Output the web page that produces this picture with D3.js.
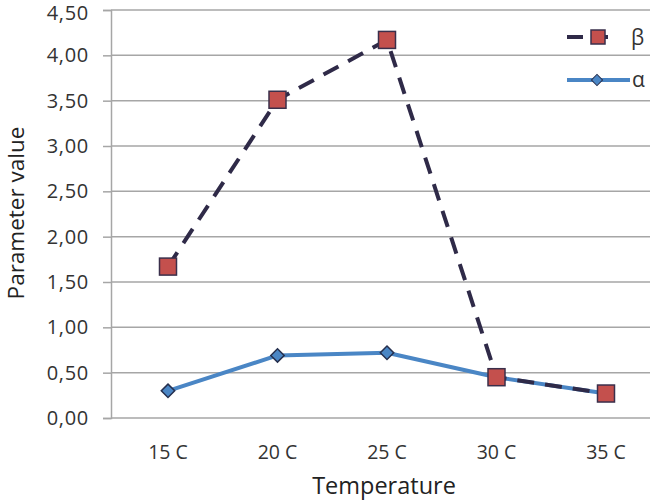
<!DOCTYPE html>
<html>
<head>
<meta charset="utf-8">
<script src="https://cdn.jsdelivr.net/npm/d3@7"></script>
<style>
  html, body { margin: 0; padding: 0; background: #fff; }
  svg { display: block; font-family: "Open Sans", "Liberation Sans", sans-serif; }
</style>
</head>
<body>
<svg id="chart" width="650" height="500"></svg>
<script>
const categories = ["15 C", "20 C", "25 C", "30 C", "35 C"];
const betaValues = [1.67, 3.51, 4.17, 0.45, 0.27];
const alphaValues = [0.30, 0.69, 0.72, 0.45, 0.27];
const yTicks = [0, 0.5, 1, 1.5, 2, 2.5, 3, 3.5, 4, 4.5];
const seriesNames = ["β", "α"];

const svg = d3.select("#chart");
const plotLeft = 111, plotRight = 658, plotTop = 10, plotBottom = 418;

const x = d3.scalePoint().domain(categories).range([168, 606]);
const y = d3.scaleLinear().domain([0, 4.5]).range([plotBottom, plotTop]);
const fmt = v => d3.format(".2f")(v).replace(".", ",");

// gridlines
svg.append("g").selectAll("line").data(yTicks).join("line")
  .attr("x1", plotLeft).attr("x2", plotRight)
  .attr("y1", d => y(d)).attr("y2", d => y(d))
  .attr("stroke", "#a6a6a6").attr("stroke-width", 1.5);

// y axis
const yAxis = svg.append("g").attr("transform", `translate(${plotLeft},0)`)
  .call(d3.axisLeft(y).tickValues(yTicks).tickFormat(fmt).tickSize(8).tickPadding(14));
yAxis.select(".domain").attr("stroke", "#a6a6a6").attr("stroke-width", 1.5);
yAxis.selectAll(".tick line").attr("stroke", "#a6a6a6").attr("stroke-width", 1.5);
yAxis.selectAll("text").attr("fill", "#333").style("font-size", "20px")
  .style("letter-spacing", "0.7px")
  .style("font-family", "'Open Sans', sans-serif");
yAxis.selectAll(".tick").filter(d => d === 4.5).select("text").attr("dy", "0.48em");

// x axis labels
svg.append("g").selectAll("text").data(categories).join("text")
  .attr("x", d => x(d)).attr("y", 459)
  .attr("text-anchor", "middle").attr("fill", "#333").style("font-size", "19.5px")
  .text(d => d);

// axis titles
svg.append("text").attr("x", 384).attr("y", 494).attr("text-anchor", "middle")
  .attr("fill", "#222").style("font-size", "23.5px").text("Temperature");
svg.append("text").attr("transform", "translate(24,213) rotate(-90)")
  .attr("text-anchor", "middle").attr("fill", "#222").style("font-size", "22.5px")
  .text("Parameter value");

const line = d3.line().x((d, i) => x(categories[i])).y(d => y(d));

// alpha series
svg.append("path").datum(alphaValues).attr("d", line)
  .attr("fill", "none").attr("stroke", "#4a86c5").attr("stroke-width", 4)
  .attr("stroke-linejoin", "round");
// beta series
svg.append("path").datum(betaValues).attr("d", line)
  .attr("fill", "none").attr("stroke", "#2f2a48").attr("stroke-width", 4)
  .attr("stroke-dasharray", "17,11");

const diamondPath = d3.symbol().type(d3.symbolSquare2).size(115)();
svg.append("g").selectAll("path").data(alphaValues).join("path")
  .attr("d", diamondPath)
  .attr("transform", (d, i) => `translate(${x(categories[i])},${y(d)}) rotate(45)`)
  .attr("fill", "#4a86c5").attr("stroke", "#26304f").attr("stroke-width", 1.5);

svg.append("g").selectAll("rect").data(betaValues).join("rect")
  .attr("x", (d, i) => x(categories[i]) - 8.5).attr("y", d => y(d) - 8.5)
  .attr("width", 17).attr("height", 17)
  .attr("fill", "#c4504d").attr("stroke", "#3a2f4b").attr("stroke-width", 1.5);

// legend
const lg = svg.append("g");
lg.append("line").attr("x1", 567).attr("x2", 615).attr("y1", 37).attr("y2", 37)
  .attr("stroke", "#2f2a48").attr("stroke-width", 4).attr("stroke-dasharray", "16,9");
lg.append("rect").attr("x", 591).attr("y", 30).attr("width", 14).attr("height", 14)
  .attr("fill", "#c4504d").attr("stroke", "#3a2f4b").attr("stroke-width", 1.5);
lg.append("text").attr("x", 631).attr("y", 45).attr("fill", "#333")
  .style("font-size", "21px").text(seriesNames[0]);

lg.append("line").attr("x1", 567).attr("x2", 630).attr("y1", 80).attr("y2", 80)
  .attr("stroke", "#4a86c5").attr("stroke-width", 4);
lg.append("path").attr("d", d3.symbol().type(d3.symbolSquare2).size(80)())
  .attr("transform", "translate(597,80) rotate(45)")
  .attr("fill", "#4a86c5").attr("stroke", "#26304f").attr("stroke-width", 1);
lg.append("text").attr("x", 632).attr("y", 87).attr("fill", "#333")
  .style("font-size", "21px").text(seriesNames[1]);
</script>
</body>
</html>
